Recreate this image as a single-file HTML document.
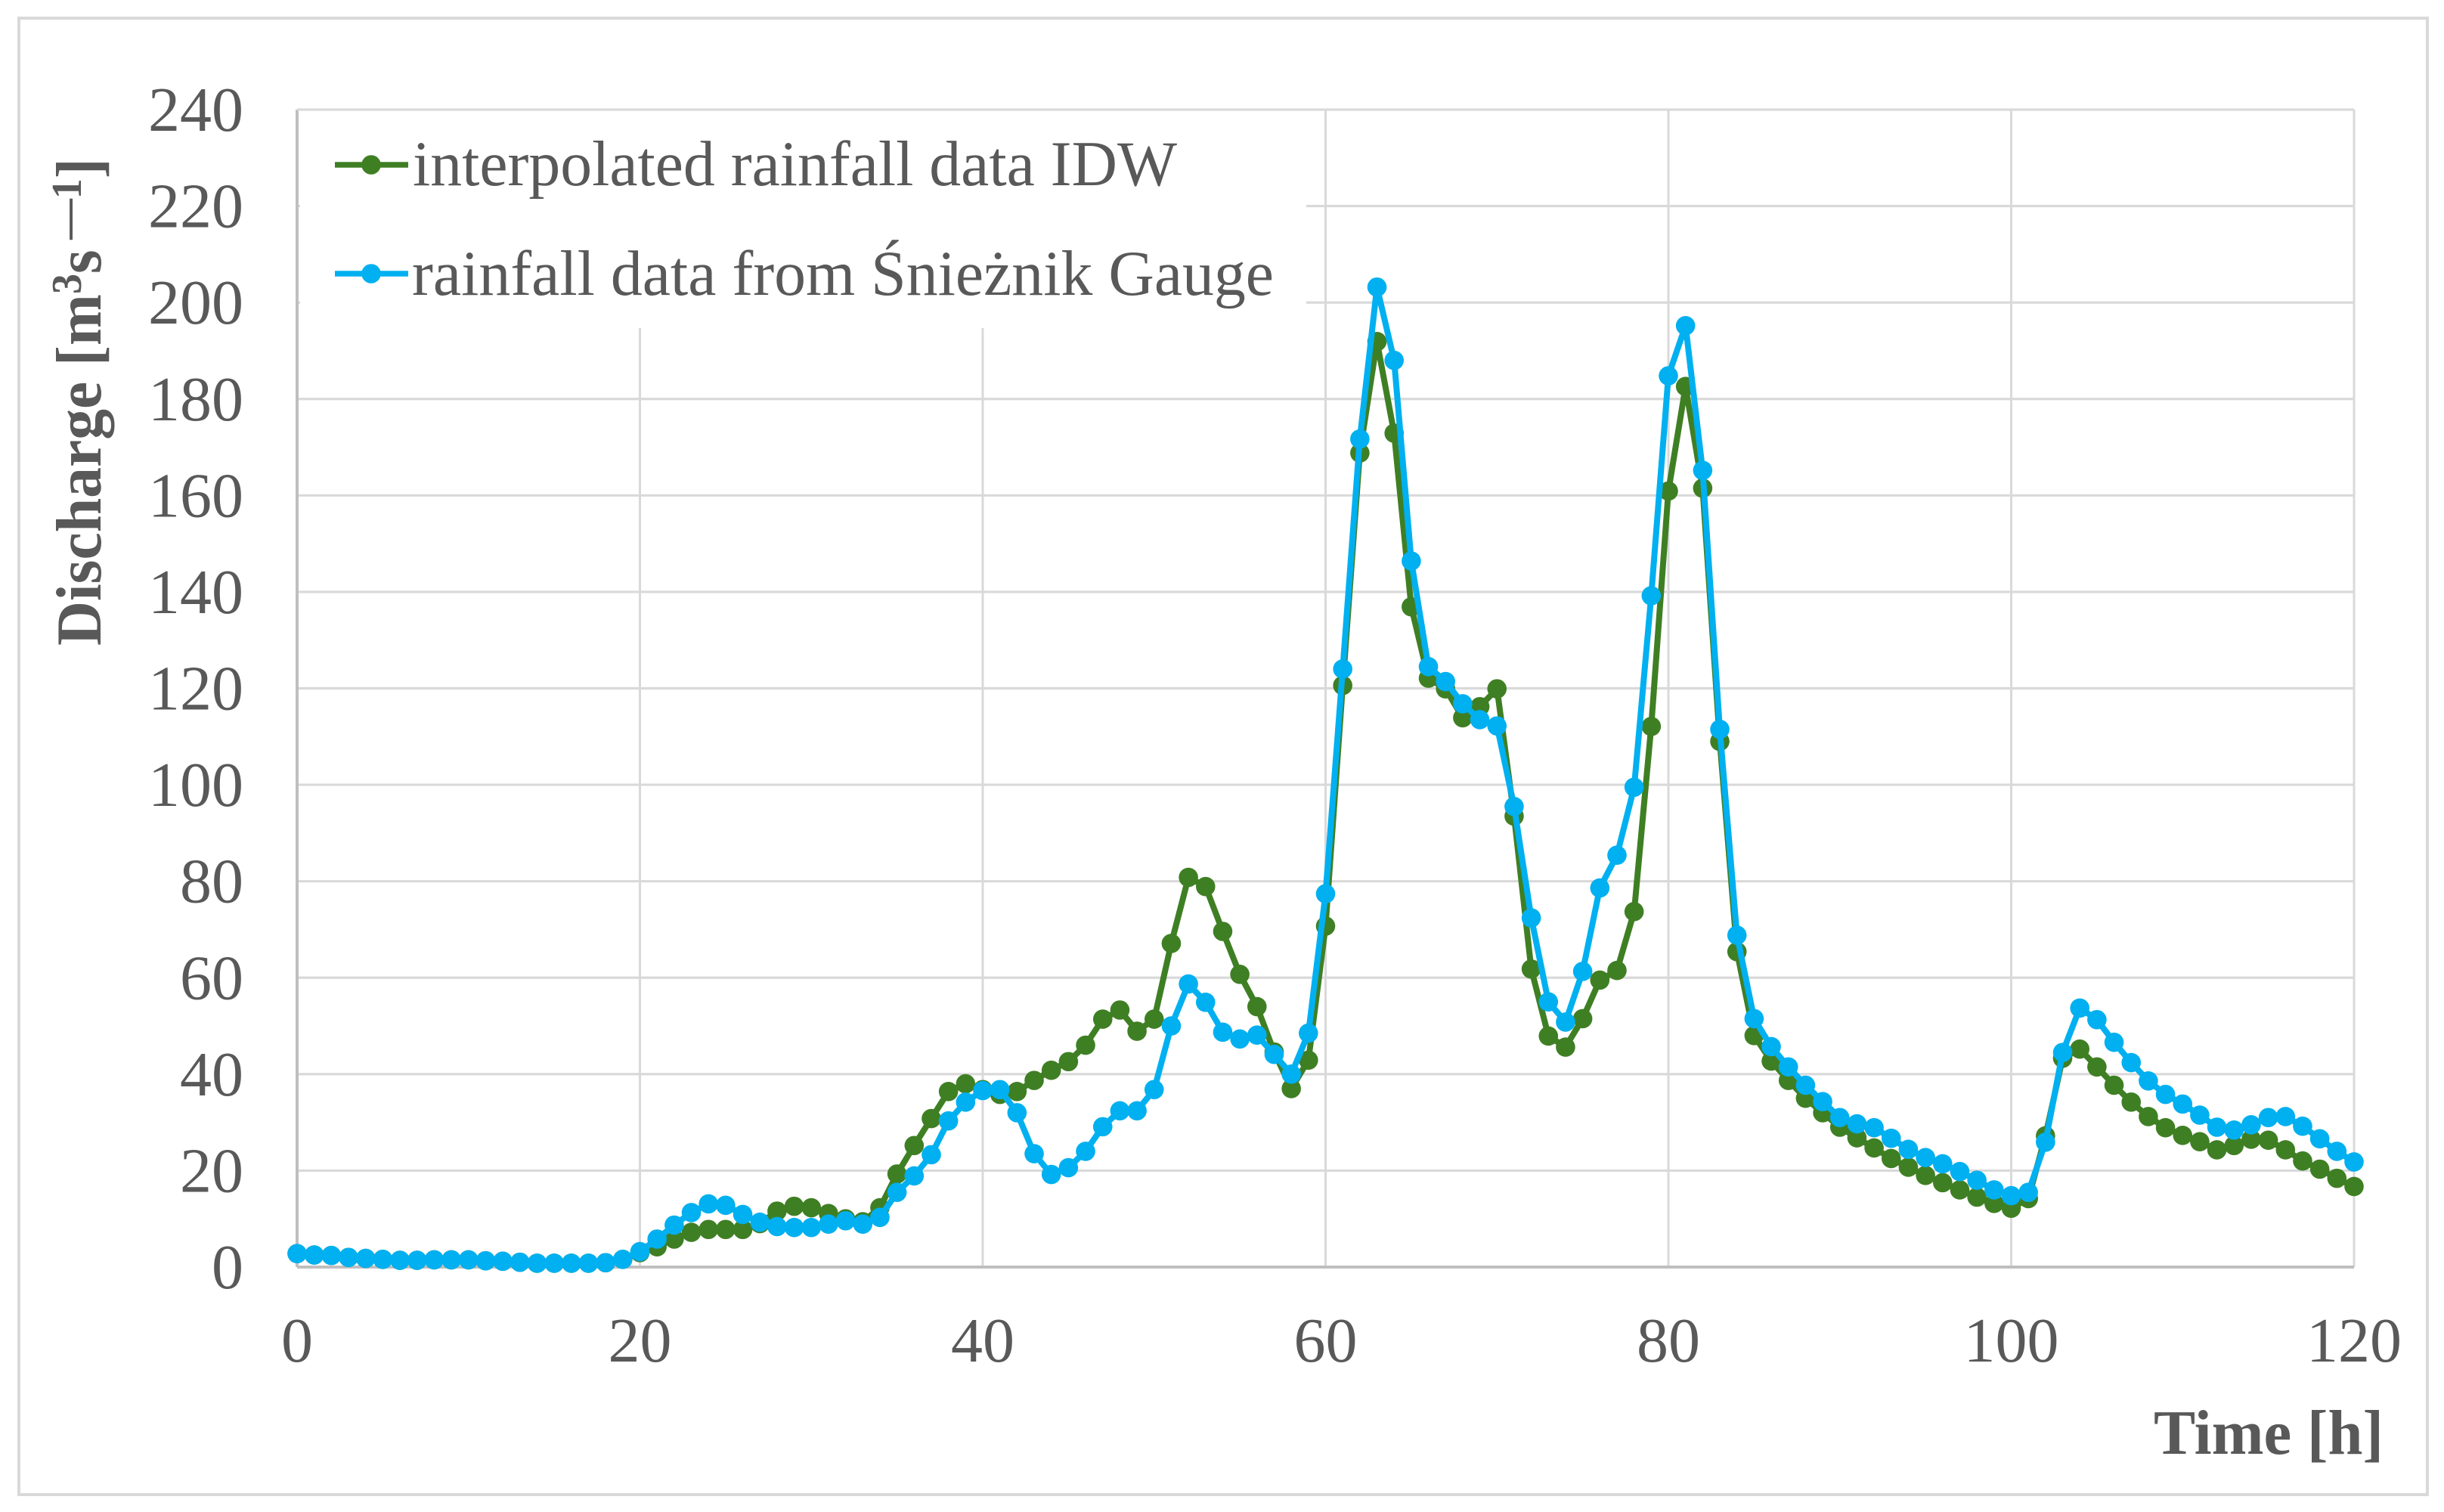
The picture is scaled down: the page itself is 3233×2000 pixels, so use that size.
<!DOCTYPE html>
<html lang="en">
<head>
<meta charset="utf-8">
<title>Discharge over time</title>
<style>
html,body{margin:0;padding:0;background:#fff;}
svg{display:block;}
text{font-family:"Liberation Serif","Noto Serif CJK SC",serif;fill:#595959;}
</style>
</head>
<body>
<svg id="chart" xmlns="http://www.w3.org/2000/svg" width="3233" height="2000" viewBox="0 0 3233 2000">
  <rect x="0" y="0" width="3233" height="2000" fill="#ffffff"/>
  <rect x="25" y="24" width="3186" height="1953" fill="none" stroke="#d9d9d9" stroke-width="4"/>
  <g id="grid"></g>
  <rect x="397" y="143" width="1331" height="291" fill="#ffffff"/>
  <g id="axes"></g>
  <g id="series"></g>
  <g>
    <g>
      <line x1="443" y1="218" x2="540" y2="218" stroke="#3f7f24" stroke-width="7.5"/>
      <circle cx="491" cy="218" r="12.8" fill="#3f7f24"/>
      <text x="546" y="245" font-size="85" textLength="1011" lengthAdjust="spacingAndGlyphs">interpolated rainfall data IDW</text>
    </g>
    <g>
      <line x1="443" y1="362" x2="540" y2="362" stroke="#00b0f0" stroke-width="7.5"/>
      <circle cx="491" cy="362" r="12.8" fill="#00b0f0"/>
      <text x="545" y="390" font-size="85" textLength="1140" lengthAdjust="spacingAndGlyphs">rainfall data from Śnieżnik Gauge</text>
    </g>
  </g>
  <text transform="translate(133,854) rotate(-90)" x="0" y="0" font-size="85" font-weight="700" textLength="645" lengthAdjust="spacingAndGlyphs">Discharge [m<tspan font-size="56" dy="-26">3</tspan><tspan dy="26">s</tspan><tspan font-size="56" dy="-26"> —1</tspan><tspan dy="26">]</tspan></text>
  <text x="2849" y="1923" font-size="84" font-weight="700" textLength="304" lengthAdjust="spacingAndGlyphs">Time [h]</text>
</svg>
<script>
const hours = [0,1,2,3,4,5,6,7,8,9,10,11,12,13,14,15,16,17,18,19,20,21,22,23,24,25,26,27,28,29,30,31,32,33,34,35,36,37,38,39,40,41,42,43,44,45,46,47,48,49,50,51,52,53,54,55,56,57,58,59,60,61,62,63,64,65,66,67,68,69,70,71,72,73,74,75,76,77,78,79,80,81,82,83,84,85,86,87,88,89,90,91,92,93,94,95,96,97,98,99,100,101,102,103,104,105,106,107,108,109,110,111,112,113,114,115,116,117,118,119,120];
const idwDischarge = [2.8,2.5,2.4,2.0,1.8,1.6,1.4,1.4,1.5,1.5,1.5,1.3,1.2,1.0,0.8,0.8,0.8,0.8,0.9,1.6,3.0,4.2,5.8,7.2,7.8,7.8,7.8,9.0,11.6,12.6,12.3,11.1,10.0,9.4,12.3,19.3,25.2,30.8,36.4,38.0,36.8,35.8,36.4,38.7,40.8,42.6,46.0,51.4,53.3,48.9,51.4,67.1,80.8,78.9,69.6,60.7,54.0,44.6,37.0,42.9,70.7,120.6,168.8,191.9,172.9,136.9,122.1,119.9,113.9,116.2,119.9,93.5,61.8,47.9,45.6,51.5,59.5,61.5,73.7,112.1,160.9,182.6,161.5,109.0,65.4,48.0,42.7,38.7,35.0,32.0,29.0,26.8,24.7,22.5,20.7,19.0,17.5,16.0,14.5,13.2,12.2,14.2,27.2,43.3,45.2,41.5,37.7,34.2,31.2,28.9,27.3,26.0,24.3,25.2,26.5,26.3,24.3,22.0,20.3,18.4,16.7];
const gaugeDischarge = [2.8,2.5,2.4,2.0,1.8,1.6,1.4,1.4,1.5,1.5,1.5,1.3,1.2,1.0,0.8,0.8,0.8,0.8,0.9,1.6,3.2,5.8,8.7,11.3,13.1,12.8,10.9,9.3,8.4,8.2,8.2,8.9,9.6,8.9,10.3,15.5,18.9,23.3,30.3,34.2,36.6,36.8,32.0,23.5,19.2,20.6,24.0,29.1,32.4,32.4,36.8,50.0,58.7,54.9,48.7,47.3,48.1,44.1,40.0,48.5,77.4,124.0,171.7,203.2,188.0,146.4,124.5,121.4,116.8,113.5,112.2,95.5,72.4,55.0,50.8,61.3,78.6,85.4,99.5,139.2,184.8,195.2,165.2,111.5,68.8,51.5,45.7,41.5,37.7,34.3,31.0,29.7,28.9,26.7,24.4,22.7,21.4,19.8,18.0,16.0,14.8,15.5,25.9,44.5,53.7,51.3,46.6,42.4,38.6,35.8,33.8,31.5,29.0,28.4,29.5,31.0,31.2,29.2,26.6,24.0,21.8];
const xTickLabels = [0,20,40,60,80,100,120];
const yTickLabels = [0,20,40,60,80,100,120,140,160,180,200,220,240];

const NS = 'http://www.w3.org/2000/svg';
const plotLeft = 393, plotRight = 3114, plotTop = 145, plotBottom = 1676;
const xMax = 120, yMax = 240;
const legendRight = 1728;

function xScale(v) { return plotLeft + (plotRight - plotLeft) * v / xMax; }
function yScale(v) { return plotBottom - (plotBottom - plotTop) * v / yMax; }
function make(tag, attrs) {
  const el = document.createElementNS(NS, tag);
  for (const k in attrs) el.setAttribute(k, attrs[k]);
  return el;
}

const grid = document.getElementById('grid');
const axes = document.getElementById('axes');
const seriesGroup = document.getElementById('series');

yTickLabels.forEach(function (t) {
  if (t !== 0) {
    const line = make('line', { x1: plotLeft, x2: plotRight, y1: yScale(t), y2: yScale(t), stroke: '#d9d9d9', 'stroke-width': 3.2 });
    
    
    grid.appendChild(line);
  }
  const label = make('text', { x: 322, y: yScale(t) + 28, 'text-anchor': 'end', 'font-size': 84 });
  
  
  label.textContent = String(t);
  axes.appendChild(label);
});

xTickLabels.forEach(function (t) {
  if (t !== 0) {
    const line = make('line', { x1: xScale(t), x2: xScale(t), y1: plotTop, y2: plotBottom, stroke: '#d9d9d9', 'stroke-width': 3 });
    
    
    grid.appendChild(line);
  }
  const label = make('text', { x: xScale(t), y: 1801, 'text-anchor': 'middle', 'font-size': 84 });
  
  
  label.textContent = String(t);
  axes.appendChild(label);
});

const yAxisLine = make('line', { x1: plotLeft, x2: plotLeft, y1: plotTop, y2: plotBottom, stroke: '#bfbfbf', 'stroke-width': 4 });


axes.appendChild(yAxisLine);

const xAxisLine = make('line', { x1: plotLeft, x2: plotRight, y1: plotBottom, y2: plotBottom, stroke: '#bfbfbf', 'stroke-width': 4 });


axes.appendChild(xAxisLine);

const topLine = make('line', { x1: plotLeft, x2: legendRight, y1: plotTop, y2: plotTop, stroke: '#d9d9d9', 'stroke-width': 3.2 });


axes.appendChild(topLine);

function drawSeries(values, color, slug) {
  const g = make('g', {});
  
  
  const pts = hours.map(function (h, i) { return xScale(h).toFixed(1) + ',' + yScale(values[i]).toFixed(1); }).join(' ');
  const line = make('polyline', { points: pts, fill: 'none', stroke: color, 'stroke-width': 8, 'stroke-linejoin': 'round' });
  
  
  g.appendChild(line);
  hours.forEach(function (h, i) {
    const dot = make('circle', { cx: xScale(h), cy: yScale(values[i]), r: 12.8, fill: color });
    
    
    g.appendChild(dot);
  });
  seriesGroup.appendChild(g);
}
drawSeries(idwDischarge, '#3f7f24', 'idw');
drawSeries(gaugeDischarge, '#00b0f0', 'snieznik');
</script>
</body>
</html>
